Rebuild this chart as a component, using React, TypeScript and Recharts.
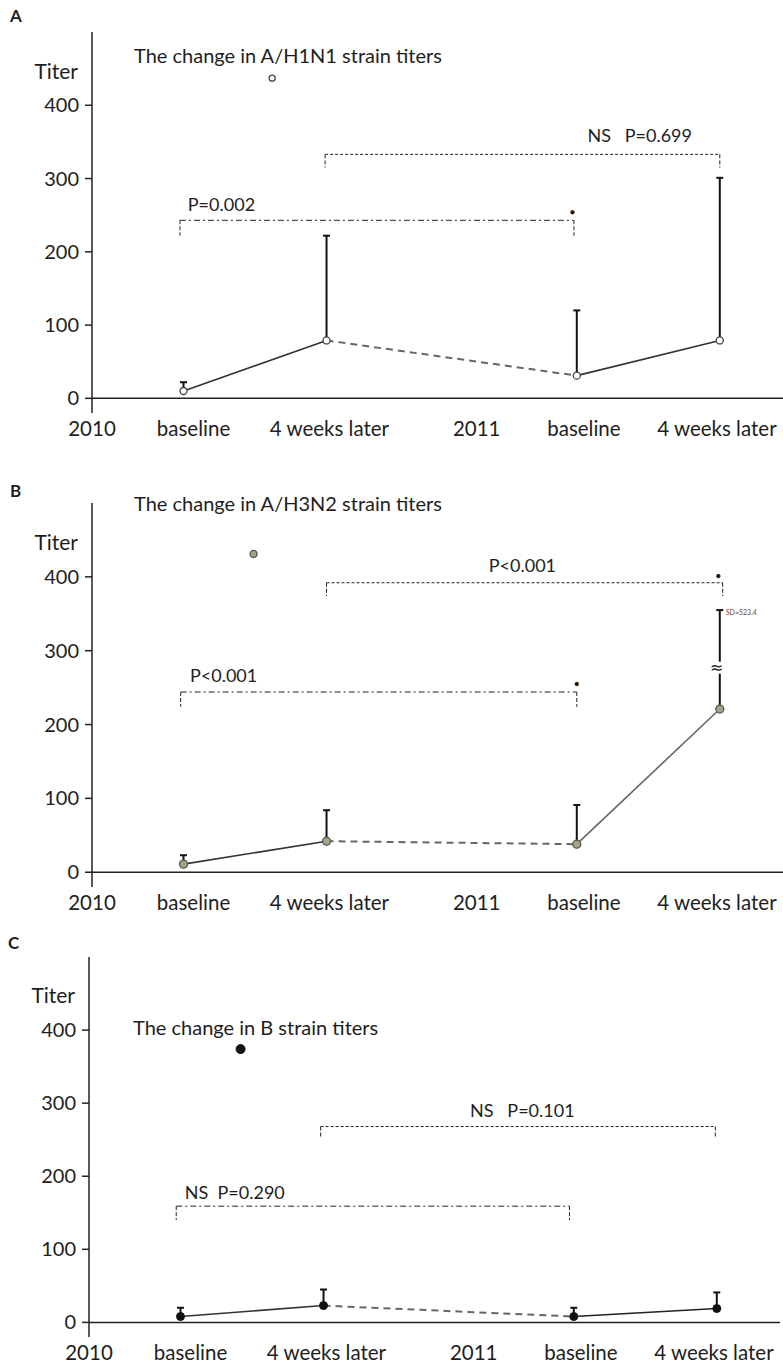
import React from 'react';
import {
  ComposedChart,
  Line,
  Scatter,
  XAxis,
  YAxis,
  ErrorBar,
  ReferenceLine,
  ReferenceDot,
} from 'recharts';

// ---------- data ----------
const xPositions = [0.64, 1.64, 3.39, 4.39]; // 2010 baseline, 2010 4wk, 2011 baseline, 2011 4wk
const tickPositions = [0, 0.71, 1.66, 2.69, 3.44, 4.37];
const tickLabels = ['2010', 'baseline', '4 weeks later', '2011', 'baseline', '4 weeks later'];
const yTicks = [0, 100, 200, 300, 400];

const h1n1Mean = [10, 79, 31, 79];
const h1n1SD = [12, 143, 89, 222];
const h1n1Outlier = [{ x: 1.26, y: 437 }];
const h1n1Stars = [{ x: 3.36, y: 254 }];

const h3n2Mean = [11, 42, 38, 221];
const h3n2SDShown = [12, 42, 53, 134];
const h3n2Outlier = [{ x: 1.13, y: 431 }];
const h3n2Stars = [
  { x: 3.39, y: 255 },
  { x: 4.38, y: 401 },
];

const bMean = [8, 23, 8, 19];
const bSD = [12, 22, 12, 22];
const bOutlier = [{ x: 1.06, y: 374 }];
const bStars: { x: number; y: number }[] = [];

type Bracket = {
  x1: number;
  x2: number;
  y: number;
  drop: number;
  kind: 'dashdot' | 'dash';
  label: string;
  lx: number;
  ly: number;
  anchor: 'start' | 'middle';
};

const h1n1Brackets: Bracket[] = [
  { x1: 0.615, x2: 3.37, y: 243, drop: 222, kind: 'dashdot', label: 'P=0.002', lx: 0.67, ly: 265, anchor: 'start' },
  { x1: 1.63, x2: 4.39, y: 333, drop: 315, kind: 'dash', label: 'NS   P=0.699', lx: 3.83, ly: 359, anchor: 'middle' },
];
const h3n2Brackets: Bracket[] = [
  { x1: 0.62, x2: 3.39, y: 244, drop: 224, kind: 'dashdot', label: 'P<0.001', lx: 0.685, ly: 267, anchor: 'start' },
  { x1: 1.64, x2: 4.41, y: 392, drop: 374, kind: 'dash', label: 'P<0.001', lx: 3.01, ly: 416, anchor: 'middle' },
];
const bBrackets: Bracket[] = [
  { x1: 0.61, x2: 3.36, y: 159, drop: 140, kind: 'dashdot', label: 'NS  P=0.290', lx: 0.67, ly: 179, anchor: 'start' },
  { x1: 1.62, x2: 4.38, y: 268, drop: 252, kind: 'dash', label: 'NS   P=0.101', lx: 3.03, ly: 290, anchor: 'middle' },
];

// ---------- styles ----------
const FONT = 'Lato, "Open Sans", sans-serif';
const TEXT = '#1e1e1e';
const X_DOMAIN: [number, number] = [0, 4.832];

type MarkerStyle = { r: number; fill: string; stroke: string; sw: number };

const XTick = (props: any) => {
  const { x, y, payload } = props;
  const idx = tickPositions.indexOf(payload.value);
  return (
    <text x={x} y={y + 15} textAnchor="middle" dominantBaseline="central" fontFamily={FONT} fontSize={20.5} fill={TEXT}>
      {tickLabels[idx]}
    </text>
  );
};

const textShape = (label: string, anchor: string) => (p: any) => (
  <text
    x={p.cx}
    y={p.cy}
    textAnchor={anchor}
    dominantBaseline="central"
    fontFamily={FONT}
    fontSize={18}
    fill={TEXT}
    style={{ whiteSpace: 'pre' }}
  >
    {label}
  </text>
);

function Panel(props: {
  mean: number[];
  sd: number[];
  outliers: { x: number; y: number }[];
  stars: { x: number; y: number }[];
  brackets: Bracket[];
  plotHeight: number;
  marker: MarkerStyle;
  outlierMarker: MarkerStyle;
  lastLineColor: string;
  extras?: React.ReactNode[];
}) {
  const { mean, sd, outliers, stars, brackets, plotHeight, marker, outlierMarker, lastLineColor } = props;
  const points = xPositions.map((x, i) => ({ x, y: mean[i], err: [0, sd[i]] }));
  const seg = (a: number, b: number) => [points[a], points[b]].map((p) => ({ x: p.x, y: p.y }));
  const markerShape = (m: MarkerStyle) => (p: any) => (
    <circle cx={p.cx} cy={p.cy} r={m.r} fill={m.fill} stroke={m.stroke} strokeWidth={m.sw} />
  );

  return (
    <ComposedChart width={783} height={plotHeight + 30} margin={{ top: 0, right: 0, bottom: 0, left: 0 }}>
      <XAxis
        dataKey="x"
        type="number"
        domain={X_DOMAIN}
        ticks={tickPositions}
        tick={<XTick />}
        axisLine={false}
        tickLine={false}
        tickSize={0}
        tickMargin={0}
        height={30}
        interval={0}
        allowDataOverflow
      />
      <YAxis
        type="number"
        domain={[-20, 500]}
        ticks={yTicks}
        width={92}
        tickSize={7}
        tickMargin={6}
        axisLine={{ stroke: '#222', strokeWidth: 1.5 }}
        tickLine={{ stroke: '#222', strokeWidth: 1.5 }}
        tick={{ fontFamily: FONT, fontSize: 20, fill: TEXT }}
        allowDataOverflow
        interval={0}
      />
      <ReferenceLine y={0} stroke="#222" strokeWidth={1.5} />
      {brackets.map((b, i) => {
        const dash = b.kind === 'dash' ? '3 2' : '6 3 2 3';
        return [
          <ReferenceLine key={`h${i}`} segment={[{ x: b.x1, y: b.y }, { x: b.x2, y: b.y }]} stroke="#222" strokeWidth={1} strokeDasharray={dash} />,
          <ReferenceLine key={`l${i}`} segment={[{ x: b.x1, y: b.y }, { x: b.x1, y: b.drop }]} stroke="#222" strokeWidth={1} strokeDasharray="4 2" />,
          <ReferenceLine key={`r${i}`} segment={[{ x: b.x2, y: b.y }, { x: b.x2, y: b.drop }]} stroke="#222" strokeWidth={1} strokeDasharray="4 2" />,
          <ReferenceDot key={`t${i}`} x={b.lx} y={b.ly} r={0} shape={textShape(b.label, b.anchor)} ifOverflow="visible" />,
        ];
      })}
      <Line data={seg(0, 1)} dataKey="y" stroke="#333" strokeWidth={1.6} dot={false} isAnimationActive={false} />
      <Line data={seg(1, 2)} dataKey="y" stroke="#666" strokeWidth={2} strokeDasharray="7 5" dot={false} isAnimationActive={false} />
      <Line data={seg(2, 3)} dataKey="y" stroke={lastLineColor} strokeWidth={1.6} dot={false} isAnimationActive={false} />
      <Scatter data={points} dataKey="y" shape={() => <g />} isAnimationActive={false}>
        <ErrorBar dataKey="err" direction="y" width={3.5} stroke="#111" strokeWidth={2} />
      </Scatter>
      {props.extras}
      <Scatter data={points} dataKey="y" shape={markerShape(marker)} isAnimationActive={false} />
      <Scatter data={outliers} dataKey="y" shape={markerShape(outlierMarker)} isAnimationActive={false} />
      <Scatter data={stars} dataKey="y" shape={markerShape({ r: 2, fill: '#111', stroke: '#7a4a10', sw: 0.5 })} isAnimationActive={false} />
    </ComposedChart>
  );
}

const abs = (left: number, top: number, extra: React.CSSProperties = {}): React.CSSProperties => ({
  position: 'absolute',
  left,
  top,
  ...extra,
});

const txt = (size: number, bold = false): React.CSSProperties => ({
  fontFamily: FONT,
  fontSize: size,
  fontWeight: bold ? 700 : 400,
  color: TEXT,
  lineHeight: 1,
  transform: 'translateY(-50%)',
  whiteSpace: 'nowrap',
});

const breakShape = (p: any) => (
  <g>
    <rect x={p.cx - 5} y={p.cy - 6} width={10} height={12} fill="#fff" />
    <text x={p.cx - 3} y={p.cy} textAnchor="middle" dominantBaseline="central" fontFamily="DejaVu Sans" fontSize={16} fill="#222">
      ≈
    </text>
  </g>
);
const sdShape = (p: any) => (
  <text x={p.cx + 6} y={p.cy + 2} dominantBaseline="central" fontFamily={FONT} fontSize={7} fill="#6b4a1a">
    SD=523.4
  </text>
);

export default function App() {
  return (
    <div style={{ position: 'absolute', left: 0, top: 0, width: 783, height: 1364, background: '#fff', overflow: 'hidden' }}>
      {/* Panel A */}
      <div style={abs(10, 15, txt(17, true))}>A</div>
      <div style={abs(134, 55, txt(20))}>The change in A/H1N1 strain titers</div>
      <div style={abs(0, 70, { ...txt(21), width: 78, textAlign: 'right' })}>Titer</div>
      <div style={abs(0, 32)}>
        <Panel
          mean={h1n1Mean}
          sd={h1n1SD}
          outliers={h1n1Outlier}
          stars={h1n1Stars}
          brackets={h1n1Brackets}
          plotHeight={381}
          marker={{ r: 3.5, fill: '#fff', stroke: '#444', sw: 1.3 }}
          outlierMarker={{ r: 3, fill: '#fff', stroke: '#444', sw: 1.3 }}
          lastLineColor="#333"
        />
      </div>

      {/* Panel B */}
      <div style={abs(10, 490, txt(17, true))}>B</div>
      <div style={abs(134, 503, txt(20))}>The change in A/H3N2 strain titers</div>
      <div style={abs(0, 541, { ...txt(21), width: 78, textAlign: 'right' })}>Titer</div>
      <div style={abs(0, 503)}>
        <Panel
          mean={h3n2Mean}
          sd={h3n2SDShown}
          outliers={h3n2Outlier}
          stars={h3n2Stars}
          brackets={h3n2Brackets}
          plotHeight={384}
          marker={{ r: 4, fill: '#a7a285', stroke: '#555', sw: 1.3 }}
          outlierMarker={{ r: 3.5, fill: '#a7a285', stroke: '#555', sw: 1.3 }}
          lastLineColor="#666"
          extras={[
            <ReferenceDot key="brk" x={4.39} y={277} r={0} shape={breakShape} ifOverflow="visible" />,
            <ReferenceDot key="sd" x={4.39} y={355} r={0} shape={sdShape} ifOverflow="visible" />,
          ]}
        />
      </div>

      {/* Panel C */}
      <div style={abs(8, 942, txt(17, true))}>C</div>
      <div style={abs(133, 1027, txt(20))}>The change in B strain titers</div>
      <div style={abs(0, 994, { ...txt(21), width: 75, textAlign: 'right' })}>Titer</div>
      <div style={abs(-3, 957)}>
        <Panel
          mean={bMean}
          sd={bSD}
          outliers={bOutlier}
          stars={bStars}
          brackets={bBrackets}
          plotHeight={380}
          marker={{ r: 4, fill: '#111', stroke: '#111', sw: 1 }}
          outlierMarker={{ r: 4.5, fill: '#111', stroke: '#111', sw: 1 }}
          lastLineColor="#222"
        />
      </div>
    </div>
  );
}
